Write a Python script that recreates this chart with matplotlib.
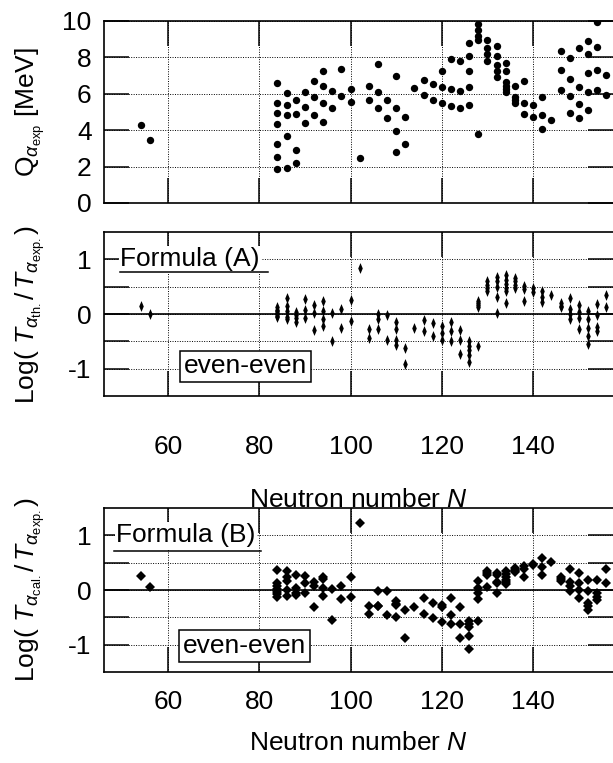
import numpy as np
import matplotlib
matplotlib.use("Agg")
import matplotlib.pyplot as plt

plt.rcParams['font.family'] = ['Liberation Sans', 'DejaVu Sans']
plt.rcParams['mathtext.fontset'] = 'custom'
plt.rcParams['mathtext.rm'] = 'Liberation Sans'
plt.rcParams['mathtext.it'] = 'Liberation Sans:italic'
plt.rcParams['mathtext.bf'] = 'Liberation Sans:bold'

# neutron numbers of the even-even nuclei (one column each)
neutron = [54, 56, 84, 86, 88, 90, 92, 94, 96, 98, 100, 102, 104, 106, 108,
           110, 112, 114, 116, 118, 120, 122, 124, 126, 128, 130, 132, 134,
           136, 138, 140, 142, 144, 146, 148, 150, 152, 154, 156]

# experimental Q_alpha [MeV]
q_exp = [[4.3], [3.45],
         [6.58, 5.48, 4.93, 4.34, 3.24, 2.51, 1.87],
         [6.04, 5.38, 4.84, 3.70, 1.94],
         [5.64, 4.87, 2.93, 2.20],
         [6.10, 5.26, 4.40],
         [6.69, 5.81, 4.84],
         [7.24, 6.45, 5.51, 4.47],
         [6.15, 5.20],
         [7.36, 5.86],
         [6.25, 5.55],
         [2.45],
         [6.45, 5.64],
         [7.62, 6.08, 5.20],
         [5.68, 4.69],
         [6.98, 5.20, 3.97, 2.80],
         [4.73, 3.24],
         [6.30],
         [6.76, 5.95],
         [6.54, 5.68],
         [7.25, 6.37, 5.48],
         [7.93, 6.26, 5.31],
         [7.80, 6.14, 5.20],
         [8.79, 8.06, 7.25, 6.37, 5.38],
         [9.85, 9.50, 9.17, 8.93, 3.77],
         [8.94, 8.54, 8.19, 7.81],
         [8.61, 8.10, 7.57, 7.25, 6.90],
         [7.70, 7.27, 6.67, 6.43, 6.25, 6.08],
         [6.43, 5.80, 5.65, 5.52],
         [6.70, 5.50, 4.87],
         [5.37, 4.74],
         [5.85, 4.84, 4.06],
         [4.55],
         [8.35, 7.32, 6.21],
         [7.98, 6.84, 5.88, 4.96],
         [8.54, 6.35, 5.46, 4.65],
         [8.92, 8.20, 7.14, 6.12, 5.13],
         [9.92, 8.58, 7.29, 6.20],
         [7.01, 5.92]]

# log10(T_th / T_exp), formula (A)
log_a = [[0.15], [0.0],
         [0.12, 0.08, 0.05, 0.02, 0.0, -0.03, -0.06],
         [0.30, 0.15, 0.05, -0.05, -0.10],
         [0.04, -0.02, -0.08, -0.14],
         [0.27, 0.08, -0.07],
         [0.16, 0.01, -0.30],
         [0.23, 0.05, -0.09, -0.22],
         [0.02, -0.50],
         [0.10, -0.26],
         [0.26, -0.12],
         [0.84],
         [-0.27, -0.44],
         [0.0, -0.10, -0.28],
         [-0.01, -0.48],
         [-0.15, -0.28, -0.48, -0.57],
         [-0.62, -0.92],
         [-0.26],
         [-0.11, -0.32],
         [-0.16, -0.40],
         [-0.22, -0.35, -0.48],
         [-0.14, -0.32, -0.50],
         [-0.29, -0.48, -0.74],
         [-0.50, -0.58, -0.66, -0.75, -0.87],
         [0.24, 0.20, 0.16, 0.13, -0.58],
         [0.60, 0.53, 0.47, 0.42],
         [0.68, 0.60, 0.50, 0.32, 0.02],
         [0.72, 0.63, 0.55, 0.47, 0.42, 0.21],
         [0.66, 0.60, 0.53, 0.48],
         [0.52, 0.45, 0.23],
         [0.47, 0.40],
         [0.42, 0.32, 0.22],
         [0.35],
         [0.20, 0.15, 0.12],
         [0.29, 0.10, 0.0, -0.09],
         [0.16, 0.04, -0.08, -0.27],
         [0.06, -0.10, -0.26, -0.40, -0.54],
         [0.18, -0.02, -0.23, -0.32],
         [0.35, 0.12]]

# log10(T_cal / T_exp), formula (B)
log_b = [[0.26], [0.05],
         [0.37, 0.12, 0.07, 0.02, -0.03, -0.07, -0.12],
         [0.34, 0.24, 0.16, 0.0, -0.11],
         [0.27, 0.04, -0.06, -0.10],
         [0.26, 0.13, -0.06],
         [0.15, 0.08, -0.31],
         [0.24, 0.20, 0.03, -0.11],
         [0.02, -0.54],
         [0.08, -0.16],
         [0.23, -0.12],
         [1.23],
         [-0.29, -0.43],
         [-0.01, -0.29, -0.30],
         [-0.01, -0.46],
         [-0.21, -0.25, -0.28, -0.49],
         [-0.37, -0.87],
         [-0.32],
         [-0.14, -0.44],
         [-0.23, -0.51],
         [-0.27, -0.32, -0.58],
         [-0.15, -0.46, -0.63],
         [-0.31, -0.62, -0.87],
         [-0.57, -0.62, -0.67, -0.84, -1.08],
         [0.16, 0.04, -0.05, -0.16, -0.57],
         [0.35, 0.32, 0.28, 0.06],
         [0.32, 0.27, 0.15, 0.13, -0.06],
         [0.35, 0.30, 0.24, 0.18, 0.14, 0.11],
         [0.40, 0.37, 0.35, 0.33],
         [0.43, 0.39, 0.23],
         [0.47, 0.45],
         [0.58, 0.42, 0.27],
         [0.51],
         [0.24, 0.20, 0.17],
         [0.38, 0.15, 0.08, -0.02],
         [0.31, 0.12, 0.0, -0.15],
         [0.18, -0.02, -0.23, -0.30, -0.37],
         [0.18, -0.06, -0.12, -0.19],
         [0.38, 0.12]]

xticks = [60, 80, 100, 120, 140]
FS = 19

# narrow, tall diamond used in the formula (A) panel
thin_diamond = [(0, 1), (0.42, 0), (0, -1), (-0.42, 0), (0, 1)]


def flatten(ns, vals):
    xs = [n for n, v in zip(ns, vals) for _ in v]
    ys = [y for v in vals for y in v]
    return np.array(xs), np.array(ys)


def style(ax):
    ax.set_xlim(46, 157.5)
    ax.set_xticks(xticks)
    ax.tick_params(direction='in', length=18, width=1.1, top=True, right=True,
                   labelsize=FS, pad=9, color='k')
    ax.grid(True, color='k', lw=0.7, ls=(0, (1, 1.5)))
    ax.set_axisbelow(True)
    ax.spines['right'].set_visible(False)
    for s in ['left', 'top', 'bottom']:
        ax.spines[s].set_linewidth(1.2)


def ylab(ax, text):
    ax.set_ylabel(text, fontsize=FS, va='center')
    ax.yaxis.set_label_coords(-0.145, 0.5)


fig = plt.figure(figsize=(6.13, 7.63), dpi=100)
L, W = 104 / 613, 509 / 613
ax1 = fig.add_axes([L, 1 - 203 / 763, W, 182 / 763])
ax2 = fig.add_axes([L, 1 - 396 / 763, W, 164 / 763])
ax3 = fig.add_axes([L, 1 - 672 / 763, W, 164 / 763])

# top: Q values
x, y = flatten(neutron, q_exp)
ax1.plot(x, y, 'o', color='k', ms=5.3, mew=0, zorder=4)
style(ax1)
ax1.set_ylim(0, 10)
ax1.set_yticks([0, 2, 4, 6, 8, 10])
ax1.tick_params(labelbottom=False)
ylab(ax1, r'Q$_{\alpha_{\rm exp}}$ [MeV]')

log_ticks = [-1, -0.5, 0, 0.5, 1]
log_labels = ['-1', '', '0', '', '1']

# middle: formula (A)
x, y = flatten(neutron, log_a)
ax2.plot(x, y, marker=thin_diamond, ls='none', color='k', ms=7.8, mew=0, zorder=4)
style(ax2)
ax2.set_ylim(-1.5, 1.5)
ax2.set_yticks(log_ticks)
ax2.set_yticklabels(log_labels)
ax2.axhline(0, color='k', lw=1.2, zorder=3)
ax2.tick_params(axis='x', pad=28)
ylab(ax2, r'Log( $T_{\alpha_{\rm th.}}/\,T_{\alpha_{\rm exp.}}$)')
ax2.set_xlabel(r'Neutron number $N$', fontsize=FS)
ax2.xaxis.label.set_va('center')
ax2.xaxis.set_label_coords(0.5, -0.634)
ax2.text(49.5, 1.0, 'Formula (A)', fontsize=FS, ha='left', va='center',
         bbox=dict(fc='w', ec='none', pad=1), zorder=5)
ax2.plot([49.5, 82], [0.775, 0.775], color='k', lw=1.1, zorder=5)
ax2.text(77, -0.96, 'even-even', fontsize=FS, ha='center', va='center', zorder=5,
         bbox=dict(fc='w', ec='k', lw=1.1, boxstyle='square,pad=0.15'))

# bottom: formula (B)
x, y = flatten(neutron, log_b)
ax3.plot(x, y, 'D', color='k', ms=4.6, mew=0, zorder=4)
style(ax3)
ax3.set_ylim(-1.5, 1.5)
ax3.set_yticks(log_ticks)
ax3.set_yticklabels(log_labels)
ax3.axhline(0, color='k', lw=1.2, zorder=3)
ax3.tick_params(axis='x', pad=13)
ylab(ax3, r'Log( $T_{\alpha_{\rm cal.}}/\,T_{\alpha_{\rm exp.}}$)')
ax3.set_xlabel(r'Neutron number $N$', fontsize=FS)
ax3.xaxis.label.set_va('center')
ax3.xaxis.set_label_coords(0.5, -0.433)
ax3.text(48.6, 1.0, 'Formula (B)', fontsize=FS, ha='left', va='center',
         bbox=dict(fc='w', ec='none', pad=1), zorder=5)
ax3.plot([48.2, 80.4], [0.72, 0.72], color='k', lw=1.1, zorder=5)
ax3.text(76.7, -1.03, 'even-even', fontsize=FS, ha='center', va='center', zorder=5,
         bbox=dict(fc='w', ec='k', lw=1.1, boxstyle='square,pad=0.15'))

fig.savefig('out.png', dpi=100)
